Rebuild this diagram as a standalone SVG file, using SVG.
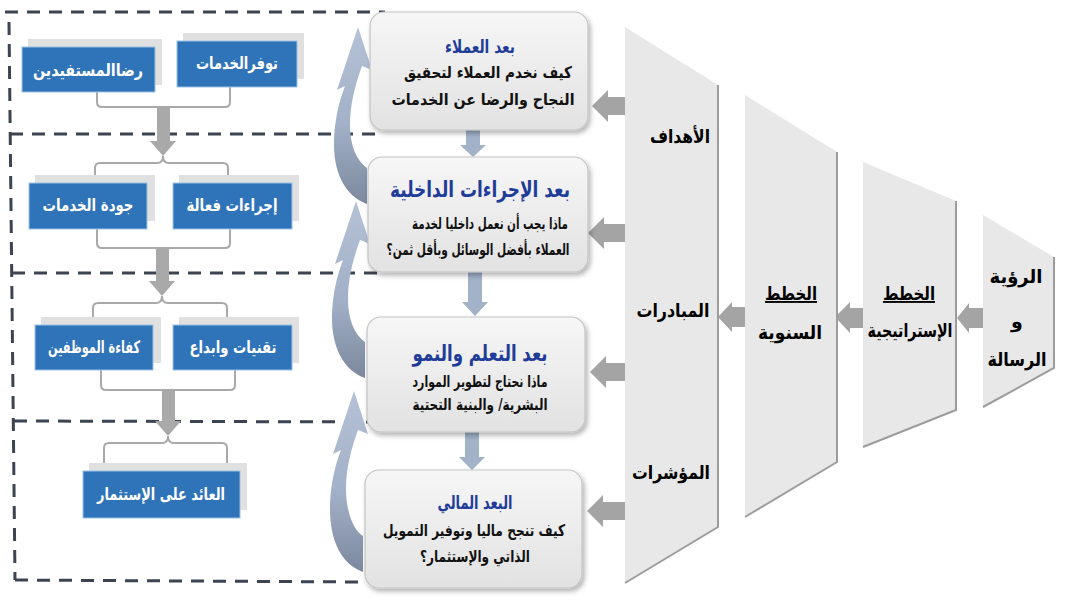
<svg xmlns="http://www.w3.org/2000/svg" width="1070" height="600" viewBox="0 0 1070 600">
<defs>
<style>
text{font-family:"DejaVu Sans","Noto Sans",sans-serif;font-weight:bold;text-anchor:middle;direction:rtl}
.dash{fill:none;stroke:#3b4450;stroke-width:3;stroke-dasharray:13 9}
.blue{fill:#2f73b8;stroke:#9cc3e6;stroke-width:1}
.shd{fill:#e0e0e0}
.wt{fill:#ffffff;font-size:17px}
.brk{fill:none;stroke:#a9a9a9;stroke-width:2}
.garr{fill:#a9a9a9}
.barr{fill:#a2b2c9}
.rarr{fill:#a4a4a4}
.mbox{fill:url(#mg);stroke:#c4c4c4;stroke-width:1.2;filter:url(#ds)}
.ttl{fill:#1f3c99}
.bd{fill:#111111;font-size:16px}
.trap{fill:#e8e8e8}
.tedge{fill:none;stroke:#9c9c9c;stroke-width:2}
.tt{fill:#000000;font-size:19px}
.carr{fill:url(#cg)}
</style>
<linearGradient id="mg" x1="0" y1="0" x2="0" y2="1">
<stop offset="0" stop-color="#f6f6f6"/>
<stop offset="1" stop-color="#e2e2e2"/>
</linearGradient>
<linearGradient id="cg" x1="0" y1="0" x2="0" y2="1">
<stop offset="0" stop-color="#b4c1d6"/>
<stop offset="0.55" stop-color="#a3b1c8"/>
<stop offset="1" stop-color="#7b889e"/>
</linearGradient>
<filter id="ds" x="-10%" y="-10%" width="125%" height="130%">
<feDropShadow dx="2" dy="3" stdDeviation="2.5" flood-color="#000000" flood-opacity="0.3"/>
</filter>
</defs>
<rect width="1070" height="600" fill="#ffffff"/>

<g id="frame">
<line class="dash" x1="5" y1="12" x2="385" y2="12"/>
<line class="dash" x1="9" y1="22" x2="15" y2="580"/>
<line class="dash" x1="10" y1="134" x2="380" y2="134"/>
<line class="dash" x1="12" y1="273" x2="377" y2="273"/>
<line class="dash" x1="14" y1="421" x2="388" y2="422"/>
<line class="dash" x1="15" y1="580" x2="367" y2="582"/>
</g>

<g id="connectors">
<path class="brk" d="M97,92 V102 Q97,107 102,107 H225 Q230,107 230,102 V87"/>
<path class="brk" d="M95,183 V168 Q95,163 100,163 H157 Q163,163 163,156 Q163,163 169,163 H223 Q228,163 228,168 V183"/>
<path class="brk" d="M97,229 V243 Q97,248 102,248 H225 Q230,248 230,243 V229"/>
<path class="brk" d="M93,325 V308 Q93,303 98,303 H156 Q162,303 162,296 Q162,303 168,303 H222 Q227,303 227,308 V325"/>
<path class="brk" d="M101,370 V385 Q101,390 106,390 H230 Q235,390 235,385 V370"/>
<path class="brk" d="M104,471 V448 Q104,443 109,443 H162 Q168,443 168,436 Q168,443 174,443 H222 Q227,443 227,448 V471"/>
<polygon class="garr" points="157,107 170,107 170,141 176,141 163,156 150,141 157,141"/>
<polygon class="garr" points="156,248 169,248 169,281 175,281 162,296 149,281 156,281"/>
<polygon class="garr" points="162,390 175,390 175,421 181,421 168,436 155,421 162,421"/>
<polygon class="barr" points="466,130 480,130 480,145 486,145 473,157 460,145 466,145"/>
<polygon class="barr" points="468,272 482,272 482,302 488,302 475,316 462,302 468,302"/>
<polygon class="barr" points="465,432 479,432 479,457 485,457 472,470 459,457 465,457"/>
<polygon class="rarr" points="627,97 608,97 608,90 592,106 608,122 608,115 627,115"/>
<polygon class="rarr" points="625,224 604,224 604,217 588,233 604,249 604,242 625,242"/>
<polygon class="rarr" points="625,363 606,363 606,356 590,372 606,388 606,381 625,381"/>
<polygon class="rarr" points="625,502 603,502 603,495 587,511 603,527 603,520 625,520"/>
<polygon class="rarr" points="983,308 969,308 969,303 957,318 969,333 969,328 983,328"/>
<polygon class="rarr" points="864,308 850,308 850,302 835,317 850,333 850,328 864,328"/>
<polygon class="rarr" points="746,307 732,307 732,302 718,317 732,332 732,327 746,327"/>
<path class="carr" d="M367,204 C345,196 333,172 334,140 C335,118 339,102 345,86 L337,90 L358,27 L372,70 L362,66 C355,85 350,105 350,125 C350,145 356,160 367,168 Z"/>
<path class="carr" transform="translate(-2,174)" d="M367,204 C345,196 333,172 334,140 C335,118 339,102 345,86 L337,90 L358,27 L372,70 L362,66 C355,85 350,105 350,125 C350,145 356,160 367,168 Z"/>
<path class="carr" transform="translate(-4,364)" d="M367,208 C345,200 333,176 334,140 C335,118 339,102 345,86 L337,90 L358,27 L372,70 L362,66 C355,85 350,105 350,125 C350,145 356,165 367,172 Z"/>
</g>

<g id="n-rida">
<rect class="shd" x="28" y="39" width="134" height="46"/>
<rect class="blue" x="22" y="47" width="133" height="45"/>
<text class="wt" x="88" y="76" textLength="110" lengthAdjust="spacingAndGlyphs">رضاالمستفيدين</text>
</g>
<g id="n-tawaffur">
<rect class="shd" x="183" y="33" width="121" height="46"/>
<rect class="blue" x="177" y="41" width="120" height="46"/>
<text class="wt" x="237" y="69" textLength="82" lengthAdjust="spacingAndGlyphs">توفرالخدمات</text>
</g>
<g id="n-jawda">
<rect class="shd" x="35" y="175" width="120" height="46"/>
<rect class="blue" x="29" y="183" width="118" height="46"/>
<text class="wt" x="88" y="211" textLength="91" lengthAdjust="spacingAndGlyphs">جودة الخدمات</text>
</g>
<g id="n-ijraat">
<rect class="shd" x="179" y="175" width="120" height="46"/>
<rect class="blue" x="173" y="183" width="119" height="46"/>
<text class="wt" x="232" y="211" textLength="91" lengthAdjust="spacingAndGlyphs">إجراءات فعالة</text>
</g>
<g id="n-kafaa">
<rect class="shd" x="41" y="317" width="120" height="46"/>
<rect class="blue" x="35" y="325" width="118" height="45"/>
<text class="wt" x="94" y="353" textLength="92" lengthAdjust="spacingAndGlyphs">كفاءة الموظفين</text>
</g>
<g id="n-taqniyat">
<rect class="shd" x="179" y="317" width="120" height="46"/>
<rect class="blue" x="173" y="325" width="119" height="45"/>
<text class="wt" x="233" y="353" textLength="87" lengthAdjust="spacingAndGlyphs">تقنيات وابداع</text>
</g>
<g id="n-aid">
<rect class="shd" x="89" y="463" width="158" height="47"/>
<rect class="blue" x="83" y="471" width="157" height="47"/>
<text class="wt" x="161" y="500" textLength="128" lengthAdjust="spacingAndGlyphs">العائد على الإستثمار</text>
</g>

<g id="n-customers">
<rect class="mbox" x="370" y="12" width="218" height="118" rx="14"/>
<text class="ttl" x="480" y="53" font-size="18" textLength="70" lengthAdjust="spacingAndGlyphs">بعد العملاء</text>
<text class="bd" x="488" y="78" textLength="168" lengthAdjust="spacingAndGlyphs">كيف نخدم العملاء لتحقيق</text>
<text class="bd" x="483" y="105" textLength="183" lengthAdjust="spacingAndGlyphs">النجاح والرضا عن الخدمات</text>
</g>
<g id="n-internal">
<rect class="mbox" x="368" y="157" width="220" height="115" rx="14"/>
<text class="ttl" x="480" y="197" font-size="22" textLength="180" lengthAdjust="spacingAndGlyphs">بعد الإجراءات الداخلية</text>
<text class="bd" x="490" y="229" textLength="156" lengthAdjust="spacingAndGlyphs">ماذا يجب أن نعمل داخليا لخدمة</text>
<text class="bd" x="478" y="255" textLength="183" lengthAdjust="spacingAndGlyphs">العملاء بأفضل الوسائل وبأقل ثمن؟</text>
</g>
<g id="n-learning">
<rect class="mbox" x="367" y="317" width="218" height="115" rx="14"/>
<text class="ttl" x="480" y="361" font-size="22" textLength="135" lengthAdjust="spacingAndGlyphs">بعد التعلم والنمو</text>
<text class="bd" x="480" y="387" textLength="135" lengthAdjust="spacingAndGlyphs">ماذا نحتاج لتطوير الموارد</text>
<text class="bd" x="480" y="410" textLength="135" lengthAdjust="spacingAndGlyphs">البشرية/ والبنية التحتية</text>
</g>
<g id="n-financial">
<rect class="mbox" x="365" y="470" width="217" height="118" rx="14"/>
<text class="ttl" x="475" y="509" font-size="19" textLength="75" lengthAdjust="spacingAndGlyphs">البعد المالي</text>
<text class="bd" x="474" y="536" font-size="17" textLength="182" lengthAdjust="spacingAndGlyphs">كيف تنجح ماليا وتوفير التمويل</text>
<text class="bd" x="475" y="562" font-size="17" textLength="110" lengthAdjust="spacingAndGlyphs">الذاتي والإستثمار؟</text>
</g>

<g id="n-goals">
<polygon class="trap" points="625,27 718,85 718,527 625,583"/>
<polyline class="tedge" points="718,85 718,527 625,583"/>
<text class="tt" x="680" y="143" textLength="60" lengthAdjust="spacingAndGlyphs">الأهداف</text>
<text class="tt" x="673" y="317" textLength="73" lengthAdjust="spacingAndGlyphs">المبادرات</text>
<text class="tt" x="671" y="479" textLength="78" lengthAdjust="spacingAndGlyphs">المؤشرات</text>
</g>
<g id="n-annual">
<polygon class="trap" points="745,95 837,152 837,462 745,517"/>
<polyline class="tedge" points="837,152 837,462 745,517"/>
<text class="tt" x="791" y="300" text-decoration="underline" textLength="52" lengthAdjust="spacingAndGlyphs">الخطط</text>
<text class="tt" x="790" y="339" textLength="64" lengthAdjust="spacingAndGlyphs">السنوية</text>
</g>
<g id="n-strategic">
<polygon class="trap" points="863,162 956,201 956,410 863,447"/>
<polyline class="tedge" points="956,201 956,410 863,447"/>
<text class="tt" x="909" y="300" text-decoration="underline" textLength="52" lengthAdjust="spacingAndGlyphs">الخطط</text>
<text class="tt" x="910" y="337" font-size="16" textLength="85" lengthAdjust="spacingAndGlyphs">الإستراتيجية</text>
</g>
<g id="n-vision">
<polygon class="trap" points="983,215 1054,257 1054,368 983,407"/>
<polyline class="tedge" points="1054,257 1054,368 983,407"/>
<text class="tt" x="1016" y="283" textLength="53" lengthAdjust="spacingAndGlyphs">الرؤية</text>
<text class="tt" x="1017" y="328">و</text>
<text class="tt" x="1017" y="366" textLength="59" lengthAdjust="spacingAndGlyphs">الرسالة</text>
</g>
</svg>
